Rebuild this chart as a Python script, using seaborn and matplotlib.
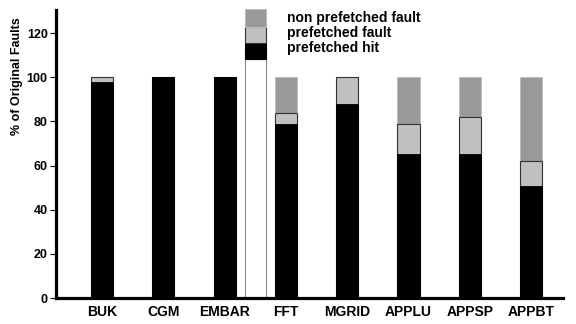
import matplotlib
matplotlib.use("Agg")
import matplotlib.pyplot as plt
import seaborn as sns
import pandas as pd
import numpy as np

categories = ["BUK", "CGM", "EMBAR", "FFT", "MGRID", "APPLU", "APPSP", "APPBT"]
prefetched_hit = [98, 100, 100, 79, 88, 65, 65, 50.5]
prefetched_fault = [2, 0, 0, 5, 12, 14, 17, 11.5]
non_prefetched_fault = [0, 0, 0, 16, 0, 21, 18, 38]
legend_labels = ["non prefetched fault", "prefetched fault", "prefetched hit"]

c_hit = "#000000"
c_pf = "#c0c0c0"
c_npf = "#999999"

sns.set_theme(style="white", rc={"text.color": "black", "axes.labelcolor": "black",
                                 "xtick.color": "black", "ytick.color": "black"})
plt.rcParams['font.family'] = ['Liberation Sans', 'DejaVu Sans']
plt.rcParams['font.weight'] = 'bold'

df = pd.DataFrame({
    "cat": categories,
    "hit": prefetched_hit,
    "pf": np.array(prefetched_hit) + np.array(prefetched_fault),
    "total": np.array(prefetched_hit) + np.array(prefetched_fault) + np.array(non_prefetched_fault),
})

fig = plt.figure(figsize=(5.76, 3.24), dpi=100)
ax = fig.add_axes([0.0972, 0.0802, 0.8803, 0.8888])

w = 0.36
sns.barplot(data=df, x="cat", y="total", order=categories, color=c_npf, width=w,
            saturation=1, edgecolor="#bbbbbb", linewidth=0.6, ax=ax)
sns.barplot(data=df, x="cat", y="pf", order=categories, color=c_pf, width=w,
            saturation=1, edgecolor="#333333", linewidth=0.8, ax=ax)
sns.barplot(data=df, x="cat", y="hit", order=categories, color=c_hit, width=w,
            saturation=1, edgecolor="#000000", linewidth=0.6, ax=ax)

# legend drawn as a stacked key bar between EMBAR and FFT
lx = 2.5
segs = [(0, 108.2, "white", "#888888"), (108.2, 7.3, c_hit, "#000000"),
        (115.5, 7.2, c_pf, "#333333"), (122.7, 8.3, c_npf, "#bbbbbb")]
for b, h, fc, ec in segs:
    ax.bar(lx, h, bottom=b, width=0.35, color=fc, edgecolor=ec, linewidth=0.8,
           clip_on=False, zorder=1)
for yv, lab in zip([126.6, 119.8, 113.0], legend_labels):
    ax.text(3.01, yv, lab, fontsize=10, fontweight='bold', va='center', ha='left',
            color='black')

ax.set_xlim(-0.75, 7.52)
ax.set_ylim(0, 130.4)
ax.set_yticks([0, 20, 40, 60, 80, 100, 120])
ax.set_xlabel("")
ax.set_ylabel("% of Original Faults", fontsize=9, fontweight='bold', color='black')
ax.yaxis.set_label_coords(-0.066, 0.771)

for s in ["top", "right"]:
    ax.spines[s].set_visible(False)
for s in ["left", "bottom"]:
    ax.spines[s].set_linewidth(2.3)
    ax.spines[s].set_color("black")

ax.tick_params(axis='y', which='major', left=True, length=4, width=0.8, pad=2,
               labelsize=9, color='black', labelcolor='black', direction='out')
ax.tick_params(axis='x', which='major', bottom=False, length=0, pad=5, labelsize=10,
               labelcolor='black')
for t in ax.get_xticklabels() + ax.get_yticklabels():
    t.set_fontweight('bold')

fig.savefig("out.png", dpi=100)
